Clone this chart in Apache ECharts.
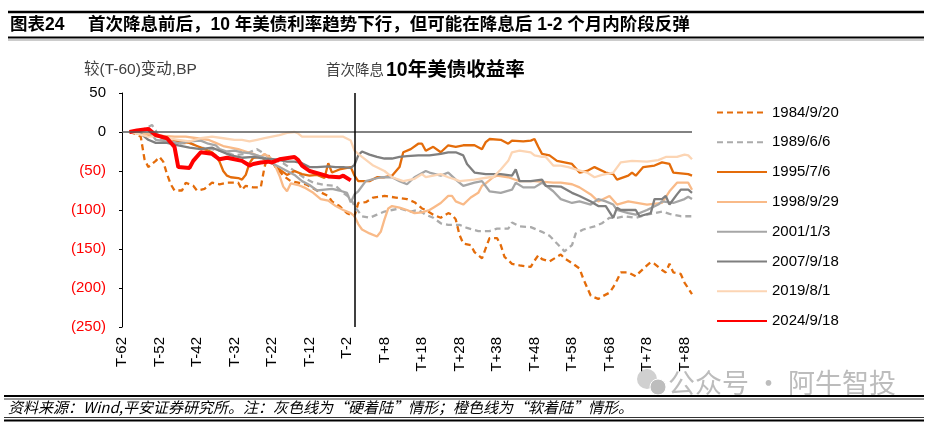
<!DOCTYPE html>
<html>
<head>
<meta charset="utf-8">
<script src="https://cdn.jsdelivr.net/npm/echarts@6/dist/echarts.min.js"></script>
<style>
  html, body { margin: 0; padding: 0; background: #fff; }
  #chart { width: 928px; height: 423px; }
</style>
</head>
<body>
<div id="chart"></div>
<script>
// 横轴：T-62 ~ T+90，数值为较 T-60 的变动（BP）
const DAY_MIN = -62, DAY_MAX = 90;
const Y_TICKS = [-250, -200, -150, -100, -50, 0, 50];

const seriesNames = ['1984/9/20', '1989/6/6', '1995/7/6', '1998/9/29', '2001/1/3', '2007/9/18', '2019/8/1', '2024/9/18'];

// [天数, BP]
const s1984 = [[-60,0],[-58,-3],[-57,-6],[-56,-35],[-55,-45],[-54,-41],[-53,-37],[-52,-32],[-51,-38],[-50,-54],[-49,-67],[-48,-75],[-46,-75],[-45,-65],[-43,-69],[-42,-75],[-40,-73],[-38,-65],[-36,-67],[-34,-65],[-31,-65],[-30,-74],[-29,-69],[-27,-71],[-25,-71],[-24,-45],[-23,-30],[-22,-38],[-21,-45],[-20,-50],[-19,-56],[-17,-63],[-15,-65],[-13,-67],[-10,-75],[-7,-82],[-6,-89],[-4,-95],[-2,-104],[0,-108],[1,-91],[3,-90],[5,-84],[8,-82],[11,-84],[14,-86],[16,-90],[18,-98],[19,-100],[21,-106],[23,-110],[25,-104],[26,-106],[27,-112],[28,-132],[29,-143],[31,-145],[32,-154],[34,-162],[35,-149],[36,-136],[38,-136],[39,-145],[40,-160],[42,-169],[44,-171],[47,-173],[48,-165],[49,-158],[50,-163],[52,-166],[55,-157],[56,-162],[58,-168],[60,-175],[61,-188],[62,-199],[63,-210],[65,-214],[66,-211],[68,-206],[69,-199],[70,-190],[71,-180],[73,-180],[75,-185],[76,-180],[78,-171],[79,-167],[80,-169],[82,-177],[83,-180],[84,-169],[85,-180],[87,-182],[88,-193],[90,-208]];
const s1989 = [[-60,0],[-57,3],[-56,4],[-54,9],[-53,2],[-52,-8],[-50,-12],[-47,-15],[-44,-14],[-41,-20],[-38,-22],[-35,-25],[-32,-30],[-29,-28],[-26,-22],[-25,-25],[-22,-35],[-19,-40],[-16,-50],[-13,-60],[-11,-65],[-8,-68],[-5,-69],[-3,-78],[-1,-85],[0,-95],[2,-108],[4,-110],[6,-106],[8,-102],[10,-100],[12,-98],[15,-102],[17,-100],[19,-106],[21,-110],[23,-117],[25,-119],[28,-119],[30,-123],[33,-127],[36,-127],[38,-124],[41,-124],[42,-116],[44,-121],[47,-122],[50,-128],[52,-133],[54,-143],[56,-153],[58,-145],[59,-130],[61,-125],[64,-121],[66,-117],[68,-110],[70,-110],[72,-108],[75,-110],[78,-106],[80,-104],[82,-102],[84,-105],[87,-108],[90,-108]];
const s1995 = [[-60,0],[-57,-2],[-55,-4],[-52,-6],[-49,-9],[-47,-12],[-44,-14],[-42,-18],[-40,-22],[-38,-26],[-37,-30],[-36,-38],[-35,-50],[-34,-56],[-33,-58],[-31,-59],[-30,-61],[-29,-55],[-28,-40],[-27,-33],[-25,-32],[-24,-35],[-22,-38],[-21,-45],[-20,-48],[-18,-55],[-16,-50],[-14,-54],[-12,-56],[-10,-55],[-8,-59],[-7,-40],[-6,-52],[-4,-48],[-1,-45],[0,-56],[1,-63],[4,-63],[6,-58],[8,-58],[10,-56],[12,-45],[13,-26],[15,-22],[17,-15],[18,-15],[19,-24],[21,-19],[23,-26],[25,-17],[27,-19],[29,-17],[32,-17],[34,-22],[35,-13],[36,-9],[39,-10],[41,-15],[42,-11],[45,-12],[47,-11],[48,-9],[49,-19],[50,-28],[52,-30],[54,-37],[56,-39],[58,-41],[60,-52],[62,-50],[64,-45],[67,-52],[69,-54],[70,-61],[73,-56],[74,-52],[75,-56],[77,-45],[80,-43],[82,-39],[84,-41],[85,-52],[89,-54],[90,-56]];
const s1998 = [[-60,0],[-57,-2],[-54,-3],[-51,-5],[-48,-6],[-45,-6],[-42,-8],[-39,-10],[-37,-14],[-35,-18],[-33,-20],[-31,-22],[-29,-25],[-27,-28],[-25,-32],[-24,-28],[-22,-35],[-21,-45],[-20,-56],[-19,-70],[-18,-76],[-17,-66],[-15,-68],[-13,-72],[-11,-78],[-9,-86],[-7,-88],[-5,-95],[-3,-100],[-1,-104],[0,-108],[1,-118],[2,-125],[4,-130],[6,-134],[7,-128],[8,-112],[9,-98],[10,-95],[12,-97],[14,-100],[16,-104],[18,-103],[20,-100],[21,-97],[23,-91],[25,-82],[26,-82],[27,-89],[29,-93],[31,-84],[33,-78],[34,-69],[35,-66],[37,-58],[38,-56],[41,-58],[44,-63],[48,-63],[53,-65],[55,-65],[58,-67],[60,-71],[63,-80],[65,-89],[68,-82],[70,-93],[73,-89],[78,-93],[82,-91],[84,-76],[86,-65],[89,-65],[90,-74]];
const s2001 = [[-60,0],[-57,2],[-55,3],[-53,-10],[-50,-12],[-47,-14],[-44,-12],[-41,-11],[-39,-15],[-37,-17],[-36,-22],[-34,-25],[-32,-24],[-30,-26],[-28,-27],[-26,-30],[-24,-33],[-22,-40],[-20,-45],[-18,-50],[-16,-55],[-14,-63],[-12,-68],[-10,-75],[-8,-74],[-6,-73],[-4,-75],[-2,-78],[-1,-90],[0,-80],[1,-76],[3,-63],[7,-58],[10,-58],[12,-63],[14,-67],[16,-58],[19,-50],[20,-52],[23,-56],[25,-52],[27,-61],[29,-69],[32,-65],[34,-63],[36,-76],[39,-78],[42,-74],[43,-65],[45,-71],[48,-71],[50,-65],[53,-76],[55,-86],[58,-91],[60,-89],[63,-93],[65,-86],[67,-89],[69,-93],[70,-100],[73,-104],[75,-106],[78,-100],[81,-93],[82,-89],[85,-91],[88,-86],[89,-83],[90,-86]];
const s2007 = [[-60,0],[-57,-2],[-55,-10],[-53,-14],[-50,-14],[-47,-17],[-44,-20],[-41,-22],[-38,-20],[-36,-24],[-33,-30],[-30,-33],[-27,-32],[-24,-34],[-21,-35],[-18,-38],[-16,-38],[-14,-40],[-12,-45],[-10,-45],[-7,-44],[-5,-45],[-3,-45],[-1,-46],[0,-42],[1,-30],[2,-25],[4,-29],[6,-32],[8,-34],[10,-34],[12,-32],[14,-31],[17,-30],[20,-30],[23,-28],[25,-26],[27,-26],[29,-30],[30,-41],[32,-52],[35,-54],[39,-54],[42,-56],[43,-48],[44,-63],[47,-63],[50,-61],[51,-69],[55,-70],[58,-78],[60,-82],[63,-89],[65,-95],[67,-95],[69,-110],[70,-97],[71,-100],[75,-100],[76,-108],[79,-104],[80,-86],[82,-86],[83,-82],[84,-93],[86,-80],[87,-74],[89,-74],[90,-78]];
const s2019 = [[-60,0],[-58,-2],[-55,-6],[-52,-5],[-50,-8],[-47,-10],[-44,-12],[-41,-8],[-38,-6],[-35,-8],[-32,-10],[-30,-10],[-28,-12],[-26,-10],[-24,-8],[-22,-6],[-20,-4],[-18,-1],[-16,0],[-15,-2],[-14,-6],[-10,-6],[-6,-6],[-3,-6],[-1,-11],[0,-24],[1,-28],[2,-32],[5,-43],[8,-50],[10,-58],[13,-63],[16,-60],[18,-54],[19,-58],[23,-54],[25,-58],[27,-61],[28,-63],[32,-61],[36,-58],[37,-58],[39,-48],[41,-37],[42,-26],[44,-24],[47,-26],[48,-30],[50,-32],[51,-32],[53,-43],[55,-43],[57,-45],[59,-48],[62,-52],[64,-58],[66,-55],[69,-52],[71,-39],[74,-37],[78,-38],[81,-36],[83,-32],[86,-32],[88,-29],[89,-30],[90,-35]];
const s2024 = [[-60,0],[-58,2],[-55,4],[-53,-4],[-50,-8],[-48,-19],[-47,-45],[-44,-46],[-43,-37],[-41,-26],[-38,-28],[-36,-35],[-34,-33],[-32,-35],[-30,-37],[-28,-43],[-27,-41],[-25,-39],[-23,-38],[-22,-39],[-20,-35],[-16,-32],[-15,-36],[-14,-43],[-12,-50],[-9,-54],[-7,-57],[-4,-58],[-3,-56],[-1,-62]];

const seriesData = [s1984, s1989, s1995, s1998, s2001, s2007, s2019, s2024];
const colors = ['#E46C0A', '#ABABAB', '#E46C0A', '#F9BA88', '#A6A6A6', '#7F7F7F', '#FCD5B4', '#FF0000'];
const dashed = [true, true, false, false, false, false, false, false];

function tLabel(d) {
  if (d < 0) return 'T' + d;
  if (d === 0) return 'T0';
  return 'T+' + d;
}
const categories = [];
for (let d = DAY_MIN; d <= DAY_MAX; d++) categories.push(tLabel(d));

const FONT = '"Liberation Sans", Arial, "Noto Sans CJK SC", sans-serif';
const CJK = '"Noto Sans CJK SC", "Liberation Sans", sans-serif';
const chart = echarts.init(document.getElementById('chart'));

const series = seriesNames.map(function (name, i) {
  const s = {
    name: name,
    type: 'line',
    symbol: 'none',
    data: seriesData[i].map(function (p) { return [p[0] - DAY_MIN, p[1]]; }),
    lineStyle: {
      color: colors[i],
      width: i === 7 ? 4 : 2.3,
      type: dashed[i] ? [6, 4] : 'solid'
    },
    itemStyle: { color: colors[i] },
    emphasis: { disabled: true }
  };
  if (i === 0) {
    // 0 轴线与首次降息竖线
    s.markLine = {
      silent: true,
      symbol: 'none',
      label: { show: false },
      data: [
        { yAxis: 0, lineStyle: { color: '#595959', width: 1.5, type: 'solid' } },
        { xAxis: -DAY_MIN, lineStyle: { color: '#000', width: 1.5, type: 'solid' } }
      ]
    };
  }
  return s;
});

chart.setOption({
  animation: false,
  backgroundColor: '#fff',
  textStyle: { fontFamily: FONT },
  grid: { left: 122, right: 236, top: 93, bottom: 96, containLabel: false, outerBoundsMode: 'none' },
  legend: {
    orient: 'vertical',
    left: 711,
    top: 100,
    itemWidth: 50,
    itemHeight: 14,
    itemGap: 14.8,
    data: seriesNames,
    itemStyle: { opacity: 0 },
    textStyle: { fontSize: 15, color: '#000', fontFamily: FONT }
  },
  xAxis: {
    type: 'category',
    data: categories,
    boundaryGap: false,
    axisLine: { show: false, onZero: false },
    axisTick: { show: false },
    splitLine: { show: false },
    axisLabel: { interval: 9, rotate: 90, margin: 10, fontSize: 15, color: '#000', fontFamily: FONT }
  },
  yAxis: {
    type: 'value',
    min: Y_TICKS[0],
    max: Y_TICKS[Y_TICKS.length - 1],
    interval: 50,
    splitLine: { show: false },
    axisLine: { show: true, lineStyle: { color: '#000', width: 1 } },
    axisTick: { show: true, length: 3, lineStyle: { color: '#000' } },
    axisLabel: {
      margin: 16,
      fontSize: 15,
      fontFamily: FONT,
      formatter: function (v) { return v < 0 ? '(' + (-v) + ')' : String(v); },
      color: function (v) { return Number(v) < 0 ? '#FF0000' : '#000'; }
    }
  },
  graphic: [
    { type: 'line', shape: { x1: 8, y1: 12, x2: 924, y2: 12 }, style: { stroke: '#000', lineWidth: 2.5 } },
    { type: 'text', left: 10, top: 16, style: { text: '图表24', font: 'bold 17.5px ' + FONT, fill: '#000' } },
    { type: 'text', left: 88, top: 16, style: { text: '首次降息前后，10 年美债利率趋势下行，但可能在降息后 1-2 个月内阶段反弹', font: 'bold 17.5px ' + FONT, fill: '#000' } },
    { type: 'line', shape: { x1: 8, y1: 37.5, x2: 924, y2: 37.5 }, style: { stroke: '#000', lineWidth: 1.8 } },
    { type: 'line', shape: { x1: 8, y1: 40, x2: 924, y2: 40 }, style: { stroke: '#999', lineWidth: 1 } },
    { type: 'text', left: 84, top: 62, style: { text: '较(T-60)变动,BP', font: '15.5px ' + FONT, fill: '#404040' } },
    { type: 'text', left: 326, top: 64, style: { text: '首次降息', font: '14.5px ' + FONT, fill: '#404040' } },
    { type: 'text', left: 386, top: 61, style: { text: '10年美债收益率', font: 'bold 19.5px ' + FONT, fill: '#000' } },
    { type: 'circle', shape: { cx: 647, cy: 379, r: 10 }, style: { fill: '#d0d0d0' } },
    { type: 'circle', shape: { cx: 658, cy: 387, r: 8 }, style: { fill: '#bdbdbd', stroke: '#fff', lineWidth: 1 } },
    { type: 'text', left: 668, top: 369, style: { text: '公众号 · 阿牛智投', font: '27px ' + CJK, fill: '#bcbcbc' } },
    { type: 'line', shape: { x1: 4, y1: 396, x2: 924, y2: 396 }, style: { stroke: '#000', lineWidth: 1.8 } },
    { type: 'line', shape: { x1: 4, y1: 399, x2: 924, y2: 399 }, style: { stroke: '#000', lineWidth: 0.8 } },
    { type: 'text', left: 8, top: 400, style: { text: '资料来源：Wind,平安证券研究所。注：灰色线为“硬着陆”情形；橙色线为“软着陆”情形。', font: 'italic 15px ' + CJK, fill: '#000' } },
    { type: 'line', shape: { x1: 4, y1: 417.5, x2: 924, y2: 417.5 }, style: { stroke: '#000', lineWidth: 0.8 } },
    { type: 'line', shape: { x1: 4, y1: 420.5, x2: 924, y2: 420.5 }, style: { stroke: '#000', lineWidth: 1.8 } }
  ],
  series: series
});
</script>
</body>
</html>
